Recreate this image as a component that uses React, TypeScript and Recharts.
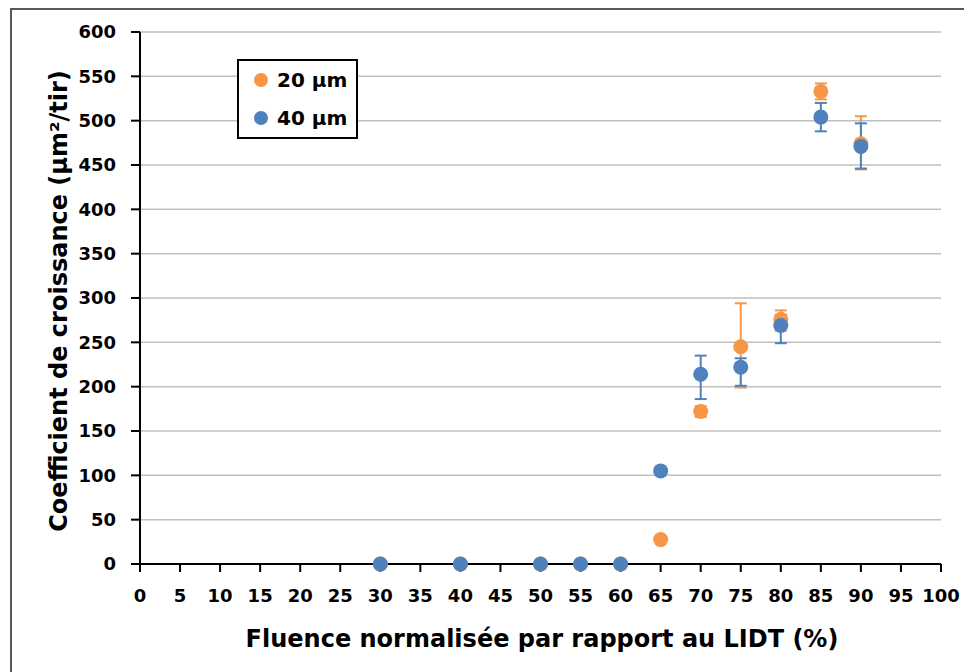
import { ScatterChart, Scatter, XAxis, YAxis, CartesianGrid, ErrorBar, Legend, Label } from 'recharts';

// fluence (% of LIDT)
const fluence = [30, 40, 50, 55, 60, 65, 70, 75, 80, 85, 90];

// growth coefficient, 20 µm sites
const coef20 = [0, 0, 0, 0, 0, 27.5, 172, 245, 276, 533, 474];
const err20 = [[0, 0], [0, 0], [0, 0], [0, 0], [0, 0], [0, 0], [6, 6], [46, 49], [13, 10], [9, 9], [29, 31]];

// growth coefficient, 40 µm sites
const coef40 = [0, 0, 0, 0, 0, 105, 214, 222, 269, 504, 471];
const err40 = [[0, 0], [0, 0], [0, 0], [0, 0], [0, 0], [0, 0], [28, 21], [21, 10], [20, 12], [16, 16], [25, 26]];

const xTicks = [0, 5, 10, 15, 20, 25, 30, 35, 40, 45, 50, 55, 60, 65, 70, 75, 80, 85, 90, 95, 100];
const yTicks = [0, 50, 100, 150, 200, 250, 300, 350, 400, 450, 500, 550, 600];

const ORANGE = '#F79646';
const BLUE = '#4F81BD';
const FONT = 'DejaVu Sans';

const data20 = fluence.map((x, i) => ({ x, y: coef20[i], err: err20[i] }));
const data40 = fluence.map((x, i) => ({ x, y: coef40[i], err: err40[i] }));

const dot = (color: string) => (props: any) => (
  <circle cx={props.cx} cy={props.cy} r={7.5} fill={color} />
);

const tickStyle = { fill: '#000', fontSize: 18, fontWeight: 'bold', fontFamily: FONT };

function LegendBox() {
  const rows = [
    { name: '20 µm', color: ORANGE },
    { name: '40 µm', color: BLUE },
  ];
  return (
    <div
      style={{
        width: 121,
        height: 80,
        boxSizing: 'border-box',
        border: '2px solid #000',
        background: '#fff',
        padding: '0 0 0 15px',
        fontFamily: FONT,
        fontWeight: 'bold',
        fontSize: 20,
        color: '#000',
      }}
    >
      {rows.map((r) => (
        <div key={r.name} style={{ display: 'flex', alignItems: 'center', height: 38 }}>
          <span
            style={{ width: 14, height: 14, borderRadius: 7, background: r.color, display: 'inline-block', marginRight: 9 }}
          />
          <span>{r.name}</span>
        </div>
      ))}
    </div>
  );
}

export default function App() {
  return (
    <div style={{ position: 'relative', width: 964, height: 664, overflow: 'hidden', background: '#fff' }}>
      <div
        style={{
          position: 'absolute',
          left: 2,
          top: 0,
          width: 1000,
          height: 700,
          border: '2px solid #595959',
          pointerEvents: 'none',
        }}
      />
      <ScatterChart width={964} height={664} margin={{ top: 24, right: 31, bottom: 8, left: 0 }}>
        <CartesianGrid horizontal vertical={false} stroke="#BFBFBF" strokeWidth={1.5} />
        <XAxis
          type="number"
          dataKey="x"
          domain={[0, 100]}
          ticks={xTicks}
          interval={0}
          height={100}
          stroke="#000"
          strokeWidth={2}
          tickSize={8}
          tickMargin={17}
          tick={tickStyle}
        >
          <Label
            content={() => (
              <text x={534} y={639} textAnchor="middle" fill="#000" fontSize={24} fontWeight="bold" fontFamily={FONT}>
                Fluence normalisée par rapport au LIDT (%)
              </text>
            )}
          />
        </XAxis>
        <YAxis
          type="number"
          dataKey="y"
          domain={[0, 600]}
          ticks={yTicks}
          interval={0}
          width={132}
          stroke="#000"
          strokeWidth={2}
          tickSize={9}
          tickMargin={15}
          tick={tickStyle}
        >
          <Label
            content={() => (
              <text
                x={59}
                y={293}
                transform="rotate(-90, 59, 293)"
                textAnchor="middle"
                fill="#000"
                fontSize={24}
                fontWeight="bold"
                fontFamily={FONT}
              >
                Coefficient de croissance (µm²/tir)
              </text>
            )}
          />
        </YAxis>
        <Legend
          layout="horizontal"
          align="center"
          verticalAlign="middle"
          wrapperStyle={{ left: 229, top: 51, width: 121, height: 80 }}
          content={() => <LegendBox />}
        />
        <Scatter name="20 µm" data={data20} fill={ORANGE} shape={dot(ORANGE)} isAnimationActive={false}>
          <ErrorBar dataKey="err" direction="y" width={6} stroke={ORANGE} strokeWidth={2} />
        </Scatter>
        <Scatter name="40 µm" data={data40} fill={BLUE} shape={dot(BLUE)} isAnimationActive={false}>
          <ErrorBar dataKey="err" direction="y" width={6} stroke={BLUE} strokeWidth={2} />
        </Scatter>
      </ScatterChart>
    </div>
  );
}
